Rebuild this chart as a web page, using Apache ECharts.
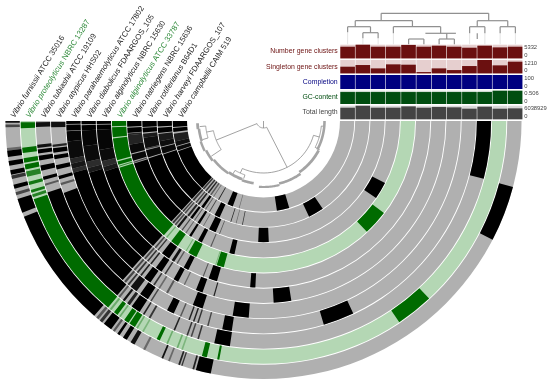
<!DOCTYPE html>
<html><head><meta charset="utf-8">
<style>html,body{margin:0;padding:0;background:#fff}#c{width:550px;height:385px;filter:blur(.3px)}</style>
<script src="https://cdn.jsdelivr.net/npm/echarts@6/dist/echarts.min.js"></script>
</head><body><div id="c"></div>
<script>
// Genomes, from the outermost ring to the innermost ring
const genomes = [
 ['Vibrio furnissii','ATCC 35016'],['Vibrio proteolyticus','NBRC 13287'],['Vibrio tubiashii','ATCC 19109'],
 ['Vibrio atypicus','HHS02'],['Vibrio parahaemolyticus','ATCC 17802'],['Vibrio diabolicus','FDAARGOS_105'],
 ['Vibrio alginolyticus','NBRC 15630'],['Vibrio alginolyticus','ATCC 33787'],['Vibrio natriegens','NBRC 15636'],
 ['Vibrio rotiferianus','B64D1'],['Vibrio harveyi','FDAARGOS_107'],['Vibrio campbellii','CAIM 519']];
const greenGenomes = [1, 7];
// Present gene-cluster bands per ring: [from, to, strength], position along the half circle
const ring0 = [[0,.4,.9],[.8,1.4,.6],[6,6.6,.4],[6.6,8,1],[8.9,10,1],[11,12,1],[12.2,13,.7],[14.3,15.2,1],[16,16.7,.6],[17.6,20.8,1],[21.8,49,1],[49.6,50.2,.5],[50.6,51.3,.7],[51.8,53.8,1],[54.3,54.8,.5],[55.5,56.1,1],[57,58,1],[59,60,.9],[62.2,62.7,.4],[66.7,67.1,.9],[68.3,68.7,.4],[70.7,71.1,.8],[71.4,71.7,.7],[74,74.4,.8],[74.8,78.2,1],[152.6,165.2,1]];
const ring1 = [[.3,1.7,1],[6.3,7.6,1],[8.8,9.9,1],[10.3,11.5,1],[12,13.3,.8],[14.5,15.3,.9],[16.5,17.2,.9],[17.6,18.3,.8],[18.8,50.2,1],[50.7,51.2,.4],[52,53,1],[53.5,53.9,.4],[55,56.2,1],[56.5,58,1],[58.4,58.8,.4],[60,60.4,.3],[63.9,64.7,1],[66.4,66.8,.4],[69,69.4,.4],[70.2,70.6,.3],[75.3,76.5,1],[79,79.5,1],[124,133,1]];
const ring2 = [[.3,1.5,.9],[6,6.8,.9],[7.2,8.2,1],[8.8,10,1],[11.3,12.6,1],[14.2,15,1],[16,16.5,.5],[18.3,50,1],[50.4,50.9,.5],[51.8,52.4,.9],[53.2,54,.8],[54.6,57,1],[58,58.4,.8],[59.7,60.2,.7],[66.7,67.1,.8],[70.2,70.6,.7],[71.3,71.7,.6],[73.1,73.5,.7],[77.5,81.5,1],[165.3,180,1]];
const ring3 = [[.3,1.7,.9],[6.4,7,.8],[7.4,8.6,1],[9.3,10.4,1],[12,13.2,1],[15,15.9,1],[17,17.6,.5],[19.8,48.5,1],[49,49.6,.6],[50.2,50.7,.7],[51.3,53.3,.9],[54.5,57,1],[57.8,58.2,.6],[63,65,1],[66.8,67.2,.5],[69.3,69.7,.8],[70.6,71,.8],[71.8,72.2,.7],[74.6,75,.6],[78.8,81.4,1],[106.5,115,1]];
const ring4 = [[0,.9,1],[1.1,2.8,1],[3,6,.97],[6,11,.94],[11,12.5,.78],[12.5,14,.88],[14,15.2,.75],[15.2,48.3,1],[48.8,49.4,.6],[50,50.5,.7],[51.3,51.8,.8],[52.8,55,1],[56,56.5,.7],[57.8,58.3,.4],[60.4,61,.5],[69,72,1],[81,85.7,1]];
const ring5 = [[0,1,1],[1.3,3,1],[3,8,.97],[8,13,.94],[13,15,.75],[15,16.5,.85],[16.5,48.5,1],[49,49.6,.6],[50.2,50.7,.7],[51.5,52,.8],[53.7,55.9,1],[57,57.5,.7],[60.4,62,1],[64,64.4,.4],[68.2,70.4,1],[74,74.4,.8],[93.2,98.8,1]];
const ring6 = [[0,1,1],[1.3,3,1],[3,10,.97],[10,14,.94],[14,16,.75],[16,17.6,.85],[17.6,48.5,1],[49.2,49.8,.6],[50.5,51,.7],[52.5,55.5,1],[56.6,57.6,.9],[58.5,59,.5],[61.4,63.2,1],[68.6,69,.5],[70.8,73.8,1],[85.4,87.2,1]];
const ring7 = [[0,2,1],[2.4,6.2,1],[6.6,15,1],[15.5,16.8,1],[17.2,17.6,.7],[18,48.9,1],[50,50.5,.4],[52.5,55.5,1],[59,59.4,.35],[60.3,63.7,1],[71.4,71.8,.3],[72,74.8,1],[133,142.6,1]];
const ring8 = [[0,2.4,1],[2.8,5,1],[5.3,6,.8],[6,10,.8],[10,13.8,.95],[14.2,17,.95],[17.4,17.9,.6],[18.2,47.5,1],[48,48.8,.7],[49.3,50,.6],[50.6,51.6,.9],[53,53.5,.6],[55,55.5,.4],[57,58,1],[61.3,63.1,1],[67,67.5,.5],[75.5,77.7,1],[145.6,153,1]];
const ring9 = [[0,2.8,1],[3.2,5.5,1],[6,8,.85],[8,13,.92],[13,13.6,.6],[14,17.5,.95],[18,47.5,1],[48,48.7,.7],[49.3,50,.6],[51,52,.8],[52.8,54,1],[55,55.5,.5],[57,58.2,1],[60,60.4,.4],[63.3,66.7,1],[68.5,68.9,.5],[87.5,92.5,1]];
const ring10 = [[0,3,1],[3.6,6.5,1],[7,11,.85],[11,14,.92],[14.5,18,.95],[18.5,47.5,1],[48,49,.7],[50,50.8,.6],[51.5,52.5,.8],[54,55.5,1],[56.5,57,.5],[59,59.5,.6],[62.5,65.5,1],[71.8,72.2,.8],[74.8,75.2,.4],[78.3,78.7,.7],[115.5,124,1]];
const ring11 = [[0,3.8,1],[4.4,7,1],[8,13,.82],[13,16,.92],[16.5,19,.95],[19.5,47.5,1],[48,49,.7],[50,51,.7],[52,53,.8],[54,55,.5],[56.3,56.8,.4],[60,60.6,.8],[66.6,70.2,1],[74.2,74.6,.4],[98.5,106.5,1]];
const rings = [ring0,ring1,ring2,ring3,ring4,ring5,ring6,ring7,ring8,ring9,ring10,ring11];
// Bar layers, left to right over the twelve columns
const numberGeneClusters = [4550,5332,4550,4550,5250,4550,4940,4550,4160,4940,4290,4550];
const singletonGeneClusters = [605,756,454,817,786,121,454,302,665,1210,726,1059];
const completion = [100,100,100,100,100,100,100,100,100,100,100,100];
const gcContent = [.455,.455,.455,.455,.455,.455,.455,.455,.455,.455,.506,.506];
const totalLength = [5155000,6038929,5155000,5155000,5744000,5155000,5450000,5303000,4713000,5597000,4713000,4860000];
// Top dendrogram: vertical [column, depthFrom, depthTo], horizontal [columnFrom, columnTo, depth]
const topVertical = [[2.2,0,7.4],[9.25,0,7.4],[.5,7.4,13.4],[4.25,7.4,13.4],[1.5,13.4,19.4],[6.1,13.4,20],[8.5,20,25.7],[6.5,20,25.7],[8.5,7.4,13.4],[10.5,7.4,13.4],[0,13.4,19],[1,19.4,25],[2,19.4,25],[3,13.4,20],[4,25.7,31],[5,25.7,31],[6,25.7,31],[7,25.7,31],[8,13.4,20],[9,13.4,20],[10,13.4,20],[11,13.4,20]];
const topHorizontal = [[2.2,9.25,0],[.5,4.25,7.4],[8.5,10.5,7.4],[0,1.5,13.4],[1,2,19.4],[3,6.1,13.4],[5.1,7.1,20],[4,5,25.7],[6,7,25.7],[8,9,13.4],[10,11,13.4]];
const topFaint = [[0,19,31],[1,25,31],[2,25,31],[3,20,31],[8,20,31],[9,20,31],[10,20,31],[11,20,31]];
// Central tree: radial [radiusFrom, radiusTo, position], arc [radius, from, to, width]
const treeRadial = [[0,7,90],[7,51,22],[7,52,117],[51,63,34],[51,58,11],[52,58,164],[52,57,66],[58,64,5],[58,64,17],[58,63,153],[58,61,175],[57,61,60],[57,61,71]];
const treeArc = [[7,22,117,.8],[51,11,34,.8],[52,66,164,.8],[58,5,17,.8],[58,153,175,.8],[57,60,71,.8],[66,2,7,2.8],[65,7,18,2.6],[66,18,27,2.4],[64.5,27,38,2.6],[63,38,56,2.6],[62,56,70,2.8],[63,70,81,2.6],[66,86,104,2.2],[64.5,104,125,2.6],[62.5,125,152,2.8],[61,152,180,2.6]];

const FONT = '"Liberation Sans",Arial,sans-serif';
const CX = 263.5, CY = 121;
const MAROON = '#6b1010', NAVY = '#000080', FOREST = '#004d10', SLATE = '#444444';
const isGreen = i => greenGenomes.includes(i);

const ringBase = genomes.map((g, i) => [i, 0, 180, 1]);
const ringMarks = [];
rings.forEach((r, i) => r.forEach(b => ringMarks.push([i, b[0], b[1], b[2]])));

function sector(colorFor) {
  return function (params, api) {
    const i = api.value(0), sys = params.coordSys;
    const a = api.coord([12 - i - .97, api.value(1)]), b = api.coord([12 - i - .03, api.value(2)]);
    const ang = p => Math.abs(Math.atan2(p[1] - sys.cy, p[0] - sys.cx));
    return {
      type: 'sector',
      shape: { cx: sys.cx, cy: sys.cy,
        r0: Math.hypot(a[0] - sys.cx, a[1] - sys.cy), r: Math.hypot(b[0] - sys.cx, b[1] - sys.cy),
        startAngle: ang(a), endAngle: ang(b), clockwise: false },
      style: { fill: colorFor(i), opacity: api.value(3) }, silent: true
    };
  };
}
function treeSeries(data, kind) {
  return { type: 'custom', coordinateSystem: 'polar', polarIndex: 1, silent: true, animation: false, z: 4, data,
    renderItem(params, api) {
      let pts = [], w = .8;
      if (kind === 'radial') {
        pts = [api.coord([api.value(0), api.value(2)]), api.coord([api.value(1), api.value(2)])];
      } else {
        const n = 24; w = api.value(3);
        for (let k = 0; k <= n; k++) pts.push(api.coord([api.value(0), api.value(1) + (api.value(2) - api.value(1)) * k / n]));
      }
      return { type: 'polyline', shape: { points: pts }, style: { stroke: w > 1 ? '#a4a4a4' : '#8c8c8c', lineWidth: w, fill: null } };
    } };
}
function topSeries(data, kind, color, w) {
  return { type: 'custom', coordinateSystem: 'cartesian2d', xAxisIndex: 6, yAxisIndex: 6, silent: true, animation: false, data,
    renderItem(params, api) {
      const p = kind === 'v'
        ? [api.coord([api.value(0), api.value(1)]), api.coord([api.value(0), api.value(2)])]
        : [api.coord([api.value(0), api.value(2)]), api.coord([api.value(1), api.value(2)])];
      return { type: 'polyline', shape: { points: p }, style: { stroke: color, lineWidth: w, fill: null } };
    } };
}

const layers = [
 { name: 'Number gene clusters', top: 44.7, h: 13.7, max: 5332, data: numberGeneClusters, c: MAROON, bg: '#e6cfcf' },
 { name: 'Singleton gene clusters', top: 60, h: 13.4, max: 1210, data: singletonGeneClusters, c: MAROON, bg: '#e6cfcf' },
 { name: 'Completion', top: 75, h: 14, max: 100, data: completion, c: NAVY, bg: '#ccccdd' },
 { name: 'GC-content', top: 90.7, h: 13.3, max: .506, data: gcContent, c: FOREST, bg: '#cfdbd2' },
 { name: 'Total length', top: 105.7, h: 13.6, max: 6038929, data: totalLength, c: SLATE, bg: '#d8d8d8' }
];
const columns = genomes.map((g, i) => genomes[11 - i][1]);

const option = {
  backgroundColor: '#fff', animation: false, textStyle: { fontFamily: FONT },
  polar: [{ center: [CX, CY], radius: [76, 258.5] }, { center: [CX, CY], radius: [0, 76] }],
  angleAxis: [0, 1].map(k => ({ polarIndex: k, show: false, startAngle: 180, clockwise: false, min: 0, max: 360 })),
  radiusAxis: [{ polarIndex: 0, show: false, min: 0, max: 12 }, { polarIndex: 1, show: false, min: 0, max: 76 }],
  grid: [
    ...layers.map(l => ({ left: 340, width: 182.7, top: l.top, height: l.h })),
    { left: 5, width: 183, top: 120, height: 1 },
    { left: 340, width: 183, top: 13.3, height: 31 }
  ],
  xAxis: [
    ...layers.map((l, k) => ({ gridIndex: k, type: 'category', data: columns, show: false })),
    { gridIndex: 5, type: 'category', position: 'top', data: genomes.map(g => g.join(' ')),
      axisLine: { show: false }, axisTick: { show: false }, splitLine: { show: false },
      axisLabel: { interval: 0, rotate: 58, margin: 3, fontSize: 7.8, fontFamily: FONT,
        formatter(v, i) { const s = isGreen(i) ? 'g' : 'k'; const g = genomes[i]; return `{${s}i|${g[0]}} {${s}|${g[1]}}`; },
        rich: { k: { color: '#222', fontSize: 7.8, fontFamily: FONT }, ki: { color: '#222', fontSize: 7.8, fontStyle: 'italic', fontFamily: FONT },
                g: { color: '#2f8a3a', fontSize: 7.8, fontFamily: FONT }, gi: { color: '#2f8a3a', fontSize: 7.8, fontStyle: 'italic', fontFamily: FONT } } } },
    { gridIndex: 6, type: 'value', show: false, min: -.5, max: 11.5 }
  ],
  yAxis: [
    ...layers.map((l, k) => ({ gridIndex: k, type: 'value', position: 'right', min: 0, max: l.max, interval: l.max,
      splitLine: { show: false }, axisLine: { show: false }, axisTick: { show: false },
      axisLabel: { fontSize: 5.8, color: '#444', margin: 1.5, fontFamily: FONT, formatter: v => String(v),
        verticalAlignMinLabel: 'bottom', verticalAlignMaxLabel: 'top', showMinLabel: true, showMaxLabel: true, hideOverlap: false },
      name: l.name, nameLocation: 'middle', nameRotate: 0, nameGap: -1.5,
      nameTextStyle: { color: l.c, fontSize: 6.9, fontFamily: FONT, align: 'right', padding: [0, 183.5, 0, 0] } })),
    { gridIndex: 5, type: 'value', show: false },
    { gridIndex: 6, type: 'value', show: false, inverse: true, min: 0, max: 31 }
  ],
  series: [
    { type: 'custom', coordinateSystem: 'polar', polarIndex: 0, animation: false, silent: true, z: 1, data: ringBase,
      renderItem: sector(i => isGreen(i) ? '#b4d7b4' : '#b0b0b0') },
    { type: 'custom', coordinateSystem: 'polar', polarIndex: 0, animation: false, silent: true, z: 2, data: ringMarks,
      renderItem: sector(i => isGreen(i) ? '#006b00' : '#000000') },
    treeSeries(treeRadial, 'radial'), treeSeries(treeArc, 'arc'),
    ...layers.map((l, k) => ({ type: 'bar', xAxisIndex: k, yAxisIndex: k, data: l.data, barCategoryGap: '4%', silent: true, animation: false,
      itemStyle: { color: l.c }, showBackground: true, backgroundStyle: { color: l.bg } })),
    topSeries(topFaint, 'v', '#e4e4e4', 1),
    topSeries(topVertical, 'v', '#909090', 1.2),
    topSeries(topHorizontal, 'h', '#909090', 1.2)
  ]
};
const chart = echarts.init(document.getElementById('c'), null, { renderer: 'canvas' });
chart.setOption(option);
</script></body></html>
